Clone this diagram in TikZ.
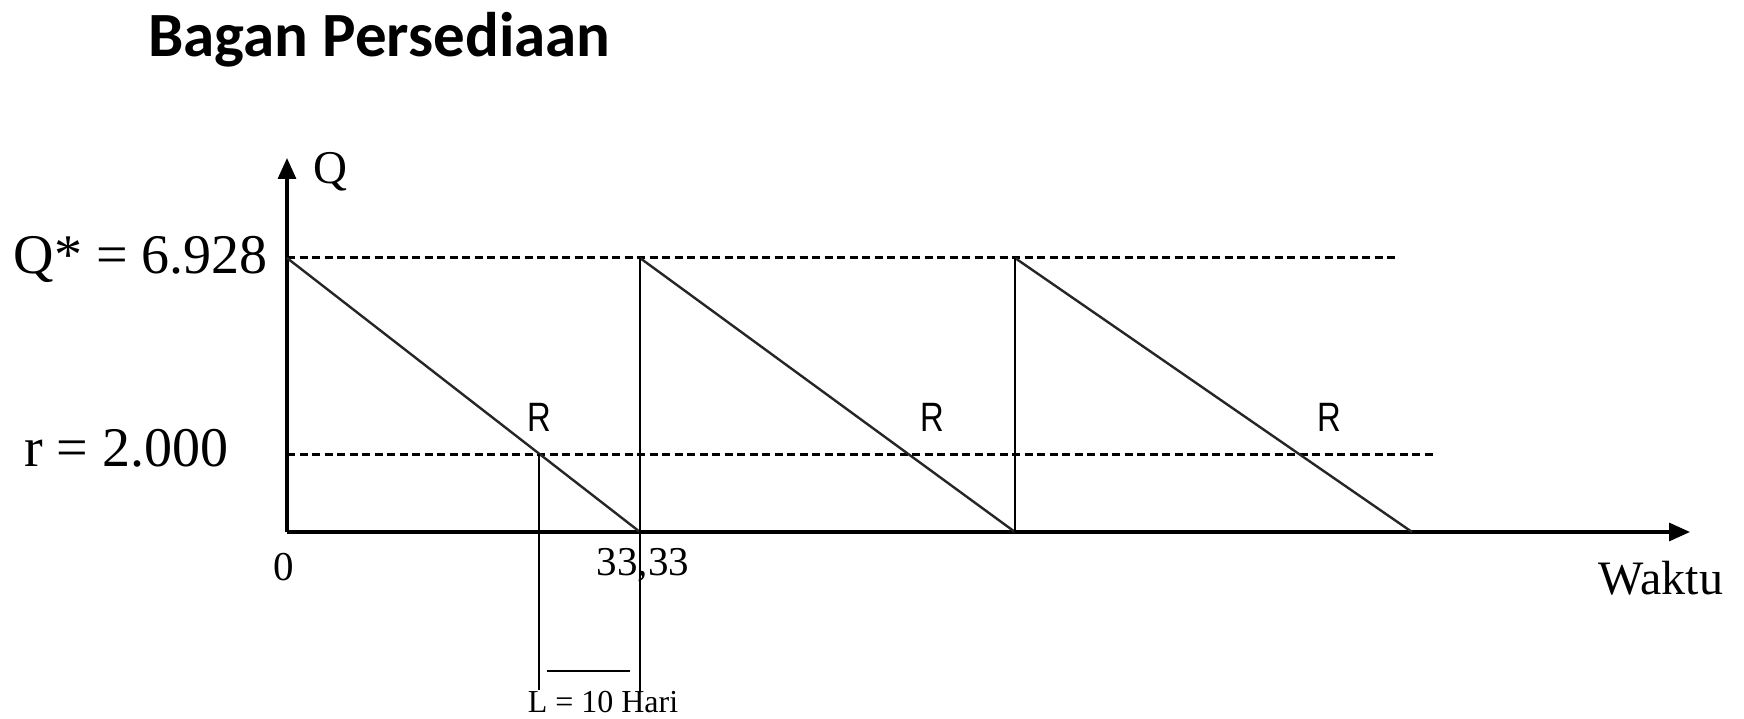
\documentclass[tikz,border=0pt]{standalone}
\usepackage{fontspec}
\setmainfont{Liberation Serif}
\newfontfamily\titlefont{Carlito}
\newfontfamily\rfont{Liberation Sans}
\usetikzlibrary{arrows.meta}
\begin{document}
\begin{tikzpicture}[x=1pt,y=-1pt,
  axisline/.style={line width=3.2pt,-{Triangle[length=21pt,width=18pt]}},
  sawline/.style={line width=2.4pt,black!85},
  vline/.style={line width=2.8pt},
  dashline/.style={line width=3pt,dash pattern=on 8pt off 4.5pt},
  lbl/.style={inner sep=0pt,font=\fontsize{56}{62}\selectfont},
  small/.style={inner sep=0pt,font=\fontsize{41}{46}\selectfont},
  rlbl/.style={inner sep=0pt,xscale=0.8,font=\rfont\fontsize{41}{46}\selectfont}]
\useasboundingbox (0,0) rectangle (1744,719);
% coordinates
\coordinate (O) at (287,532);
\coordinate (ytop) at (287,158);
\coordinate (xend) at (1690,532);
\coordinate (A0) at (287,258);
\coordinate (B1) at (640,532);
\coordinate (A1) at (640,258);
\coordinate (B2) at (1015,532);
\coordinate (A2) at (1015,258);
\coordinate (B3) at (1412,532);
\coordinate (QdEnd) at (1396,258);
\coordinate (rStart) at (287,454);
\coordinate (rEnd) at (1435,454);
\coordinate (P1) at (539,454);
\coordinate (P1b) at (539,690);
\coordinate (V1b) at (640,692);
\coordinate (La) at (547,671);
\coordinate (Lb) at (630,671);
% dashed levels
\draw[dashline] (A0) -- (QdEnd);
\draw[dashline] (rStart) -- (rEnd);
% axes
\draw[axisline] (O) -- (ytop);
\draw[axisline] (O) -- (xend);
% sawtooth
\draw[sawline] (A0) -- (B1);
\draw[sawline] (A1) -- (B2);
\draw[sawline] (A2) -- (B3);
\draw[vline] (V1b) -- (A1);
\draw[vline] (B2) -- (A2);
\draw[vline] (P1) -- (P1b);
\draw[vline] (La) -- (Lb);
% labels
\node[inner sep=0pt,font=\titlefont\bfseries\fontsize{63}{69}\selectfont,anchor=west] (title) at (148,40) {Bagan Persediaan};
\node[inner sep=0pt,font=\fontsize{47}{52}\selectfont,anchor=west] (qlab) at (313,172) {Q};
\node[lbl,anchor=east] (qstar) at (268,259) {Q* = 6.928};
\node[lbl,anchor=west] (rlab) at (24,448) {r = 2.000};
\node[small] (zero) at (284,567) {0};
\node[small] (t33) at (643,565) {33,33};
\node[inner sep=0pt,font=\fontsize{48}{54}\selectfont] (waktu) at (1661,578) {Waktu};
\node[inner sep=0pt,font=\fontsize{32}{36}\selectfont] (Llab) at (603,702) {L = 10 Hari};
\node[rlbl] (R1) at (539,417) {R};
\node[rlbl] (R2) at (932,417) {R};
\node[rlbl] (R3) at (1329,417) {R};
\end{tikzpicture}
\end{document}
